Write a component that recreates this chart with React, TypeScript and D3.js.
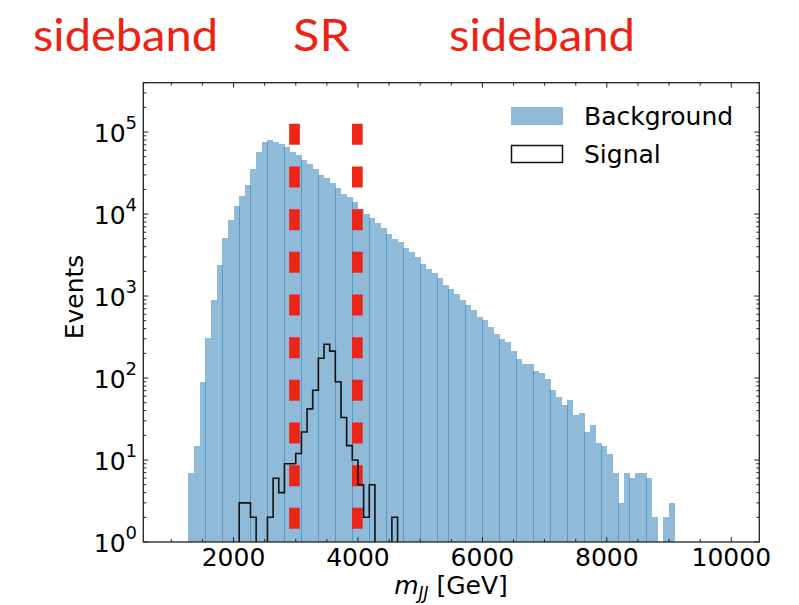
import React from 'react';
import * as d3 from 'd3';

// Histogram binning: 99 equal bins between 1000 and 10000 GeV
const BIN_LO = 1000;
const BIN_HI = 10000;
const N_BINS = 99;

// Background counts, starting at bin index 3
const BG_START = 3;
const background = [
  7, 15, 89, 305, 887, 2370, 5060, 8380, 12400, 16400,
  22400, 35100, 57000, 74900, 79200, 76400, 70800, 65100, 56500, 52000,
  45200, 40400, 35100, 30200, 27200, 23700, 20600, 17700, 16000, 13900,
  11600, 10100, 9040, 7850, 6700, 5770, 5010, 4520, 3890, 3410,
  3020, 2480, 2160, 1930, 1680, 1380, 1210, 1070, 887, 785,
  670, 550, 515, 415, 341, 302, 272, 212, 172, 147,
  150, 121, 114, 96, 71, 58, 47, 54, 35, 37,
  22, 27, 16, 15, 12, 7, 3, 7, 6, 7,
  7, 6, 2, 0, 2, 3,
];

// Signal counts, starting at bin index 12
const SIG_START = 12;
const signal = [
  3, 3, 2, 0, 0, 2, 6, 4, 9, 9,
  12, 22, 42, 71, 174, 258, 213, 90, 33, 15,
  10, 5, 2, 5, 0, 0, 0, 2,
];

// Signal-region boundaries (red dashed lines)
const srEdges = [2980, 3990];
const srTop = 1.26e5;

const titleLabels = ['sideband', 'SR', 'sideband'];
const titleX = [33, 293, 449];
const titleW = [185, 57, 186];

const xMajorTicks = [2000, 4000, 6000, 8000, 10000];
const yMajorExp = [0, 1, 2, 3, 4, 5];

const X_DOMAIN: [number, number] = [550, 10450];
const Y_DOMAIN: [number, number] = [1, 4.0e5];

const L = 143.3, R = 759.3, T = 82.7, B = 542;

const FONT = "'DejaVu Sans', sans-serif";
const RED = '#ee2212';

export default function App() {
  const x = d3.scaleLinear().domain(X_DOMAIN).range([L, R]);
  const y = d3.scaleLog().domain(Y_DOMAIN).range([B, T]);
  const binW = (BIN_HI - BIN_LO) / N_BINS;
  const edge = (k: number) => BIN_LO + k * binW;

  const bgBars = background
    .map((v, i) => ({ k: i + BG_START, v }))
    .filter((d) => d.v > 0)
    .map((d) => {
      const x0 = Math.round(x(edge(d.k)));
      const x1 = Math.round(x(edge(d.k + 1)) + 0.35);
      const yt = Math.round(y(d.v));
      return { x0, x1, yt, key: d.k };
    });

  // signal step outline
  const full: number[] = [];
  for (let k = 0; k < N_BINS; k++) {
    const idx = k - SIG_START;
    full.push(idx >= 0 && idx < signal.length ? signal[idx] : 0);
  }
  const floorV = 0.05;
  const pts: [number, number][] = [];
  pts.push([x(edge(0)), y(floorV)]);
  full.forEach((v, k) => {
    const vv = v > 0 ? v : floorV;
    pts.push([x(edge(k)), y(vv)]);
    pts.push([x(edge(k + 1)), y(vv)]);
  });
  pts.push([x(edge(N_BINS)), y(floorV)]);
  const sigPath = d3.line()(pts) || '';

  // ticks
  const xMinor = d3.range(1000, 10001, 500).filter((v) => !xMajorTicks.includes(v));
  const yMinor: number[] = [];
  for (let e = 0; e <= 5; e++) {
    for (let m = 2; m <= 9; m++) {
      const v = m * Math.pow(10, e);
      if (v <= Y_DOMAIN[1]) yMinor.push(v);
    }
  }
  const tickColor = '#222';
  const maj = 5, mnr = 3;

  return (
    <svg
      width={799}
      height={605}
      style={{ position: 'absolute', left: 0, top: 0, background: '#fff' }}
      fontFamily={FONT}
    >
      <defs>
        <clipPath id="plotclip">
          <rect x={L} y={T} width={R - L} height={B - T} />
        </clipPath>
      </defs>

      {titleLabels.map((t, i) => (
        <text
          key={i}
          x={titleX[i]}
          y={51}
          fontFamily="Lato, 'Open Sans', sans-serif"
          fontSize={45}
          fill={RED}
          textLength={titleW[i]}
          lengthAdjust="spacingAndGlyphs"
        >
          {t}
        </text>
      ))}

      <g clipPath="url(#plotclip)">
        {bgBars.map((b) => (
          <rect
            key={b.key}
            x={b.x0}
            y={b.yt}
            width={b.x1 - b.x0}
            height={B + 2 - b.yt}
            fill="#1f77b4"
            fillOpacity={0.5}
            shapeRendering="crispEdges"
          />
        ))}
        {srEdges.map((v, i) => (
          <line
            key={i}
            x1={x(v)}
            x2={x(v)}
            y1={y(srTop)}
            y2={y(1)}
            stroke={RED}
            strokeWidth={10.7}
            strokeDasharray="21 21.67"
            opacity={0.97}
          />
        ))}
        <path d={sigPath} fill="none" stroke="#111" strokeWidth={1.6} />
      </g>

      {/* ticks, direction in, on all sides */}
      <g stroke={tickColor} strokeWidth={1}>
        {xMajorTicks.map((v) => (
          <g key={'xM' + v}>
            <line x1={x(v)} x2={x(v)} y1={B} y2={B - maj} />
            <line x1={x(v)} x2={x(v)} y1={T} y2={T + maj} />
          </g>
        ))}
        {xMinor.map((v) => (
          <g key={'xm' + v}>
            <line x1={x(v)} x2={x(v)} y1={B} y2={B - mnr} />
            <line x1={x(v)} x2={x(v)} y1={T} y2={T + mnr} />
          </g>
        ))}
        {yMajorExp.map((e) => (
          <g key={'yM' + e}>
            <line x1={L} x2={L + maj} y1={y(Math.pow(10, e))} y2={y(Math.pow(10, e))} />
            <line x1={R} x2={R - maj} y1={y(Math.pow(10, e))} y2={y(Math.pow(10, e))} />
          </g>
        ))}
        {yMinor.map((v) => (
          <g key={'ym' + v}>
            <line x1={L} x2={L + mnr} y1={y(v)} y2={y(v)} />
            <line x1={R} x2={R - mnr} y1={y(v)} y2={y(v)} />
          </g>
        ))}
      </g>

      <rect x={L} y={T} width={R - L} height={B - T} fill="none" stroke="#222" strokeWidth={1.3} />

      {/* x tick labels */}
      {xMajorTicks.map((v) => (
        <text key={'xl' + v} x={x(v)} y={566} textAnchor="middle" fontSize={25} fill="#000">
          {v}
        </text>
      ))}
      {/* y tick labels */}
      {yMajorExp.map((e) => (
        <text
          key={'yl' + e}
          x={137}
          y={y(Math.pow(10, e)) + 10}
          textAnchor="end"
          fontSize={25}
          fill="#000"
        >
          10
          <tspan fontSize={18} dy={-13}>
            {e}
          </tspan>
        </text>
      ))}

      {/* axis labels */}
      <text
        transform={`translate(83, 297) rotate(-90)`}
        textAnchor="middle"
        fontSize={25}
        fill="#000"
      >
        Events
      </text>
      <text x={451} y={594} textAnchor="middle" fontSize={25} fill="#000">
        <tspan fontStyle="italic">m</tspan>
        <tspan fontStyle="italic" fontSize={17} dy={5}>JJ</tspan>
        <tspan dy={-5}> [GeV]</tspan>
      </text>

      {/* legend */}
      <rect x={511} y={107} width={52} height={18} fill="#1f77b4" fillOpacity={0.5} />
      <text x={584} y={125} fontSize={25} fill="#000">Background</text>
      <rect x={511.5} y={145.5} width={51} height={17} fill="none" stroke="#111" strokeWidth={1.5} />
      <text x={584} y={163} fontSize={25} fill="#000">Signal</text>
    </svg>
  );
}
